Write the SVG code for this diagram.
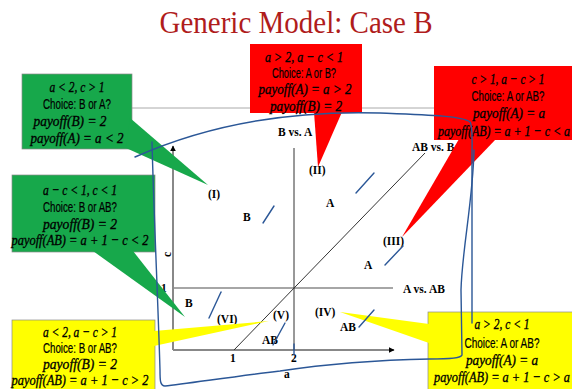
<svg xmlns="http://www.w3.org/2000/svg" width="572" height="389" viewBox="0 0 572 389">
<style>
.m{font-family:"Liberation Serif",serif;font-style:italic;font-size:15.5px;fill:#000;stroke:#000;stroke-width:0.35;text-anchor:middle}
.s{font-family:"Liberation Sans Narrow","Liberation Sans",sans-serif;font-size:14px;fill:#000;stroke:#000;stroke-width:0.2;text-anchor:middle}
.l{font-family:"Liberation Serif",serif;font-weight:bold;font-size:11.5px;fill:#000}
.g{fill:#17a84b;stroke:#8a8a8a;stroke-width:0.7}
.r{fill:#ff0000}
.y{fill:#ffff00;stroke:#8a8a8a;stroke-width:0.7}
.ink{fill:none;stroke:#2b5797;stroke-width:1.4;stroke-linecap:round}
</style>
<defs>
<marker id="ah" viewBox="0 0 10 10" refX="9" refY="5" markerWidth="6" markerHeight="6" orient="auto" markerUnits="userSpaceOnUse"><path d="M0,0 L10,5 L0,10 z" fill="#000"/></marker>
</defs>
<rect width="572" height="389" fill="#fff"/>
<text x="296" y="33" font-family="Liberation Serif,serif" font-size="32" fill="#b01c1c" text-anchor="middle" textLength="273" lengthAdjust="spacingAndGlyphs">Generic Model: Case B</text>
<line x1="60" y1="108" x2="520" y2="108" stroke="#aaa" stroke-width="1"/>
<g id="graph">
<line x1="173" y1="350" x2="173" y2="146" stroke="#888" stroke-width="2" marker-end="url(#ah)"/>
<line x1="173" y1="350" x2="394" y2="350" stroke="#888" stroke-width="2" marker-end="url(#ah)"/>
<line x1="173" y1="288" x2="393" y2="288" stroke="#888" stroke-width="1.5"/>
<line x1="294" y1="148" x2="294" y2="350" stroke="#333" stroke-width="1"/>
<line x1="234" y1="350" x2="425" y2="153" stroke="#333" stroke-width="1"/>
<text class="l" x="278" y="136">B vs. A</text>
<text class="l" x="412" y="151">AB vs. B</text>
<text class="l" x="403" y="293">A vs. AB</text>
<text class="l" x="208" y="198">(I)</text>
<text class="l" x="243" y="221">B</text>
<text class="l" x="309" y="174">(II)</text>
<text class="l" x="326" y="207">A</text>
<text class="l" x="383" y="245">(III)</text>
<text class="l" x="364" y="269">A</text>
<text class="l" x="315" y="316">(IV)</text>
<text class="l" x="340" y="331">AB</text>
<text class="l" x="273" y="319">(V)</text>
<text class="l" x="217" y="323">(VI)</text>
<text class="l" x="185" y="307">B</text>
<text class="l" x="262" y="344">AB</text>
<text class="l" x="230" y="362">1</text>
<text class="l" x="291" y="362">2</text>
<text class="l" x="284" y="378">a</text>
<text class="l" x="161" y="292">1</text>
<text class="l" x="0" y="0" transform="translate(171,257) rotate(-90)">c</text>
</g>
<g id="callout1">
<rect class="g" x="22" y="74" width="110" height="75"/>
<polygon points="130,118 208,185 126,148" fill="#17a84b"/>
<text class="m" x="77" y="92" textLength="55" lengthAdjust="spacingAndGlyphs">a &lt; 2, c &gt; 1</text>
<text class="s" x="77" y="109" textLength="68" lengthAdjust="spacingAndGlyphs">Choice: B or A?</text>
<text class="m" x="70" y="126" textLength="73" lengthAdjust="spacingAndGlyphs">payoff(B) = 2</text>
<text class="m" x="77" y="143" textLength="93" lengthAdjust="spacingAndGlyphs">payoff(A) = a &lt; 2</text>
</g>
<g id="callout2">
<rect class="r" x="250" y="44" width="112" height="69"/>
<polygon class="r" points="314,112 318,167 342,112"/>
<text class="m" x="304" y="62" textLength="78" lengthAdjust="spacingAndGlyphs">a &gt; 2, a − c &lt; 1</text>
<text class="s" x="304" y="78" textLength="64" lengthAdjust="spacingAndGlyphs">Choice: A or B?</text>
<text class="m" x="305" y="94" textLength="93" lengthAdjust="spacingAndGlyphs">payoff(A) = a &gt; 2</text>
<text class="m" x="306" y="111" textLength="72" lengthAdjust="spacingAndGlyphs">payoff(B) = 2</text>
</g>
<g id="callout3">
<rect class="r" x="434" y="66" width="138" height="74"/>
<polygon class="r" points="459,139 402,237 496,139"/>
<text class="m" x="508" y="84" textLength="73" lengthAdjust="spacingAndGlyphs">c &gt; 1, a − c &gt; 1</text>
<text class="s" x="508" y="101" textLength="73" lengthAdjust="spacingAndGlyphs">Choice: A or AB?</text>
<text class="m" x="509" y="118" textLength="72" lengthAdjust="spacingAndGlyphs">payoff(A) = a</text>
<text class="m" x="504" y="136" textLength="132" lengthAdjust="spacingAndGlyphs">payoff(AB) = a + 1 − c &lt; a</text>
</g>
<g id="callout4">
<rect class="g" x="12" y="175" width="143" height="77"/>
<polygon points="93,251 185,317 133,251" fill="#17a84b"/>
<text class="m" x="80" y="195" textLength="74" lengthAdjust="spacingAndGlyphs">a − c &lt; 1, c &lt; 1</text>
<text class="s" x="80" y="212" textLength="74" lengthAdjust="spacingAndGlyphs">Choice: B or AB?</text>
<text class="m" x="80" y="229" textLength="74" lengthAdjust="spacingAndGlyphs">payoff(B) = 2</text>
<text class="m" x="80" y="245" textLength="137" lengthAdjust="spacingAndGlyphs">payoff(AB) = a + 1 − c &lt; 2</text>
</g>
<g id="callout5">
<rect class="y" x="12" y="320" width="143" height="80"/>
<polygon points="154,331 269,321 154,346" fill="#ffff00"/>
<text class="m" x="80" y="337" textLength="74" lengthAdjust="spacingAndGlyphs">a &lt; 2, a − c &gt; 1</text>
<text class="s" x="80" y="353" textLength="74" lengthAdjust="spacingAndGlyphs">Choice: B or AB?</text>
<text class="m" x="80" y="369" textLength="74" lengthAdjust="spacingAndGlyphs">payoff(B) = 2</text>
<text class="m" x="80" y="385" textLength="137" lengthAdjust="spacingAndGlyphs">payoff(AB) = a + 1 − c &gt; 2</text>
</g>
<g id="callout6">
<rect class="y" x="428" y="312" width="150" height="90"/>
<polygon points="340,312 429,324 429,343" fill="#ffff00"/>
<text class="m" x="502" y="329" textLength="55" lengthAdjust="spacingAndGlyphs">a &gt; 2, c &lt; 1</text>
<text class="s" x="502" y="348" textLength="75" lengthAdjust="spacingAndGlyphs">Choice: A or AB?</text>
<text class="m" x="502" y="365" textLength="72" lengthAdjust="spacingAndGlyphs">payoff(A) = a</text>
<text class="m" x="502" y="382" textLength="136" lengthAdjust="spacingAndGlyphs">payoff(AB) = a + 1 − c &gt; a</text>
</g>
<g id="annotations">
<path class="ink" d="M135,157 C200,128 280,110 380,113 C430,115 462,116 470,122 C473,126 472,140 472,160 L472,323"/>
<path class="ink" d="M474,150 C473,200 462,250 461,290 L462,355 C461,358 452,359 430,359 C380,360 320,365 280,371 C230,377 185,384 165,386 C160,386 160,380 160,370 C158,300 154,220 152,142"/>
<path class="ink" d="M263,223 L274,206"/>
<path class="ink" d="M356,193 L374,173"/>
<path class="ink" d="M385,265 L403,246"/>
<path class="ink" d="M359,327 L374,310"/>
<path class="ink" d="M209,318 L221,292"/>
<path class="ink" d="M273,345 L285,323"/>
<path class="ink" d="M294,344 L294,355"/>
</g>
</svg>
